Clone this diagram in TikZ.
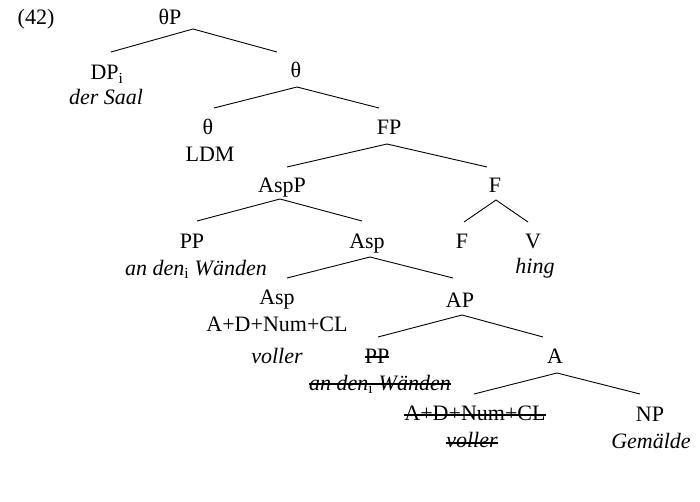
\documentclass[tikz,border=0pt]{standalone}
\usepackage{fontspec}
\setmainfont{Liberation Serif}
\begin{document}
\begin{tikzpicture}[x=1pt,y=-1pt,
  lab/.style={inner sep=0pt, anchor=base, font=\fontsize{22}{26}\selectfont},
  it/.style={lab, font=\fontsize{22}{26}\selectfont\itshape},
  branch/.style={line width=0.9pt},
  strike/.style={line width=1.5pt}]
\useasboundingbox (0,0) rectangle (700,502);
% labels
\node[lab] (ex) at (36,25) {(42)};
\node[lab] (tP) at (170,25) {θP};
\node[lab] (DP) at (107,80) {DP\textsubscript{i}};
\node[it] (DPw) at (106,105) {der Saal};
\node[lab] (t1) at (296,78) {θ};
\node[lab] (t2) at (208,135) {θ};
\node[lab] (LDM) at (210,162) {LDM};
\node[lab] (FP) at (389,135) {FP};
\node[lab] (AspP) at (282,193) {AspP};
\node[lab] (F1) at (495,193) {F};
\node[lab] (PP) at (192,248) {PP};
\node[it] (PPw) at (196,275) {an den\textsubscript{\upshape i} Wänden};
\node[lab] (Asp1) at (367,248) {Asp};
\node[lab] (F2) at (462,248) {F};
\node[lab] (V) at (533,248) {V};
\node[it] (Vw) at (535,273) {hing};
\node[lab] (Asp2) at (277,304) {Asp};
\node[lab] (ADN) at (277,331) {A+D+Num+CL};
\node[it] (vol) at (277,363) {voller};
\node[lab] (AP) at (460,307) {AP};
\node[lab] (PPs) at (377,363) {PP};
\node[it] (PPsw) at (380,390) {an den\textsubscript{\upshape i} Wänden};
\node[lab] (A) at (555,363) {A};
\node[lab] (ADNs) at (475,420) {A+D+Num+CL};
\node[it] (vols) at (472,447) {voller};
\node[lab] (NP) at (650,421) {NP};
\node[it] (NPw) at (651,448) {Gemälde};
% branch points
\coordinate (tPa) at (193,29);   \coordinate (DPt) at (111,52);  \coordinate (t1t) at (277,52);
\coordinate (t1a) at (297,87);   \coordinate (t2t) at (214,108); \coordinate (FPt) at (379,108);
\coordinate (FPa) at (387,144);  \coordinate (AspPt) at (287,167); \coordinate (F1t) at (487,167);
\coordinate (AspPa) at (280,199); \coordinate (PPt) at (197,221); \coordinate (Asp1t) at (362,221);
\coordinate (F1a) at (496,200);  \coordinate (F2t) at (464,222); \coordinate (Vt) at (528,222);
\coordinate (Asp1a) at (370,257); \coordinate (Asp2t) at (287,278); \coordinate (APt) at (453,278);
\coordinate (APa) at (462,315);  \coordinate (PPst) at (378,337); \coordinate (At) at (543,337);
\coordinate (Aa) at (557,373);   \coordinate (ADNst) at (474,394); \coordinate (NPt) at (640,394);
% branches
\draw[branch] (DPt) -- (tPa) -- (t1t);
\draw[branch] (t2t) -- (t1a) -- (FPt);
\draw[branch] (AspPt) -- (FPa) -- (F1t);
\draw[branch] (PPt) -- (AspPa) -- (Asp1t);
\draw[branch] (F2t) -- (F1a) -- (Vt);
\draw[branch] (Asp2t) -- (Asp1a) -- (APt);
\draw[branch] (PPst) -- (APa) -- (At);
\draw[branch] (ADNst) -- (Aa) -- (NPt);
% strike-throughs
\draw[strike] ([yshift=6pt]PPs.base west) -- ([yshift=6pt]PPs.base east);
\draw[strike] ([yshift=6pt]PPsw.base west) -- ([yshift=6pt]PPsw.base east);
\draw[strike] ([yshift=5pt]ADNs.base west) -- ([yshift=5pt]ADNs.base east);
\draw[strike] ([yshift=4pt]vols.base west) -- ([yshift=4pt]vols.base east);
\end{tikzpicture}
\end{document}
